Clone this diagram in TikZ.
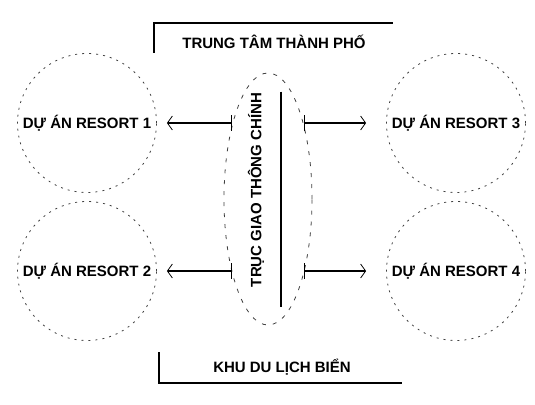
\documentclass[tikz,border=0pt]{standalone}
\usepackage{fontspec}
\setmainfont{Liberation Sans}
\usetikzlibrary{arrows.meta, positioning, shapes.geometric}
\usepackage{xcolor}
\newcommand{\nhanchu}{\fontsize{15}{18}\selectfont\bfseries}

\begin{document}
\begin{tikzpicture}[x=1pt, y=-1pt]
            \tikzstyle{duan} = [circle, draw=black!75, dash pattern=on 2pt off 5pt, line width=0.8pt, inner sep=0pt, minimum size=139pt, font=\nhanchu]
            \tikzstyle{truc} = [ellipse, draw=black!75, dash pattern=on 4pt off 7pt, line width=0.8pt, inner sep=0pt, minimum width=88pt, minimum height=252pt]
            \tikzstyle{tieude} = [font=\nhanchu, inner sep=0pt]
            \tikzstyle{muiten} = [draw, line width=1.5pt, {Bar[width=16pt,line width=0.9pt]}-{Straight Barb[length=5pt,width=14pt,line width=0.8pt]}]
            \useasboundingbox (0,0) rectangle (535,404);

            \node [duan] (r1) at (87,123) {DỰ ÁN RESORT 1};
            \node [duan, below of=r1, node distance=148pt] (r2) {DỰ ÁN RESORT 2};
            \node [duan, right of=r1, node distance=369pt] (r3) {DỰ ÁN RESORT 3};
            \node [duan, below of=r3, node distance=148pt] (r4) {DỰ ÁN RESORT 4};

            \node [truc] (truc) at (268,199) {};
            \node [tieude, rotate=90] (trucchu) at (256,190) {TRỤC GIAO THÔNG CHÍNH};
            \path [draw, line width=2pt] ([xshift=13pt,yshift=-19pt]truc.north) -- ([xshift=13pt,yshift=18pt]truc.south);

            \node [tieude] (trungtam) at (274,42) {TRUNG TÂM THÀNH PHỐ};
            \node [tieude] (bien) at (282,367) {KHU DU LỊCH BIỂN};
            \path [draw, line width=1.2pt] (154,53) |- (393,23);
            \path [draw, line width=1.2pt] (159,352) |- (402,383);

            % thanh o truc, mui ten ve phia du an
            \path [muiten] ([xshift=8pt]truc.west |- r1) -- ([xshift=10pt]r1.east);
            \path [muiten] ([xshift=8pt]truc.west |- r2) -- ([xshift=10pt]r2.east);
            \path [muiten] ([xshift=-8pt]truc.east |- r3) -- ([xshift=-20pt]r3.west);
            \path [muiten] ([xshift=-8pt]truc.east |- r4) -- ([xshift=-20pt]r4.west);
        \end{tikzpicture}
\end{document}
